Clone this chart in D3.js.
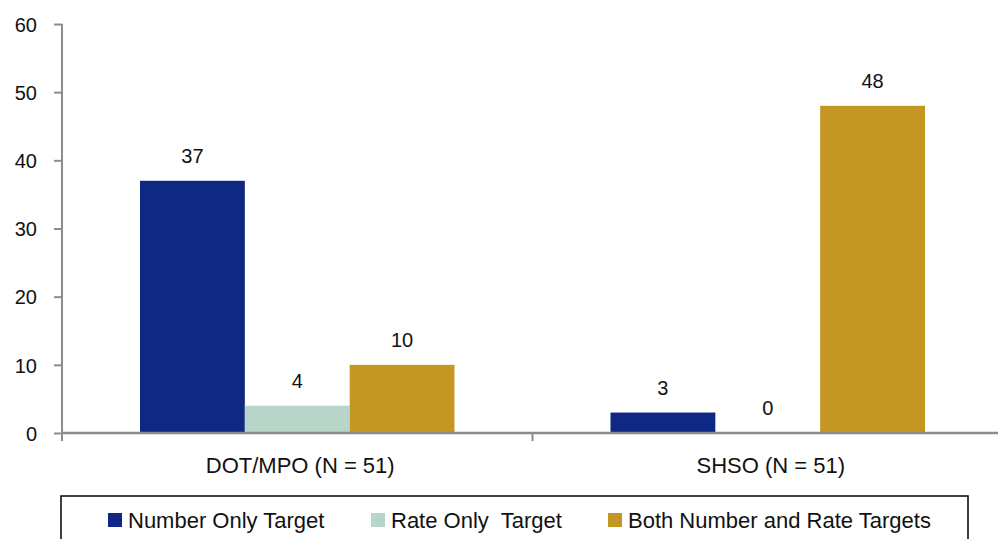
<!DOCTYPE html>
<html>
<head>
<meta charset="utf-8">
<script src="https://cdn.jsdelivr.net/npm/d3@7"></script>
<style>
  body { margin: 0; background: #fff; }
  svg text { font-family: "Liberation Sans Narrow", "Arial Narrow", "Liberation Sans", Arial, sans-serif; fill: #111; }
</style>
</head>
<body>
<svg id="chart" width="998" height="539"></svg>
<script>
// chart data
var categories = ["DOT/MPO (N = 51)", "SHSO (N = 51)"];
var seriesNames = ["Number Only Target", "Rate Only  Target", "Both Number and Rate Targets"];
var seriesColors = ["#0f2884", "#b8d5ca", "#c49722"];
var numberOnly = [37, 3];
var rateOnly = [4, 0];
var bothTargets = [10, 48];
var yTicks = [0, 10, 20, 30, 40, 50, 60];

var seriesValues = [numberOnly, rateOnly, bothTargets];

var svg = d3.select('#chart');
// plot area runs a little past the right edge of the picture, as in the original
var plotLeft = 62, plotRight = 1003, plotTop = 24, plotBottom = 433;

var x0 = d3.scaleBand().domain(categories).range([plotLeft, plotRight]).padding(0);
var x1 = d3.scaleBand().domain(seriesNames)
    .range([78, x0.bandwidth() - 78]).padding(0);
var y = d3.scaleLinear().domain([0, 60]).range([plotBottom, plotTop]);

// bars, one group per category
var groups = svg.append('g').selectAll('g').data(categories)
    .enter().append('g')
    .attr('transform', function(d) { return 'translate(' + x0(d) + ',0)'; });

groups.selectAll('rect')
    .data(function(d, i) {
        return seriesNames.map(function(s, j) {
            return { series: s, value: seriesValues[j][i], color: seriesColors[j] };
        });
    })
    .enter().append('rect')
    .attr('x', function(d) { return x1(d.series); })
    .attr('y', function(d) { return y(d.value); })
    .attr('width', x1.bandwidth())
    .attr('height', function(d) { return y(0) - y(d.value); })
    .attr('fill', function(d) { return d.color; });

groups.selectAll('text.val')
    .data(function(d, i) {
        return seriesNames.map(function(s, j) {
            return { series: s, value: seriesValues[j][i] };
        });
    })
    .enter().append('text')
    .attr('class', 'val')
    .attr('x', function(d) { return x1(d.series) + x1.bandwidth() / 2; })
    .attr('y', function(d) { return y(d.value) - 18; })
    .attr('text-anchor', 'middle')
    .style('font-size', '20px')
    .text(function(d) { return d.value; });

// y axis
var yAxis = svg.append('g')
    .attr('transform', 'translate(' + plotLeft + ',0)')
    .call(d3.axisLeft(y).tickValues(yTicks).tickSize(8).tickPadding(17).tickSizeOuter(0));
yAxis.select('.domain').remove();
yAxis.append('line').attr('x1', 0).attr('x2', 0).attr('y1', plotTop).attr('y2', plotBottom + 8)
    .attr('stroke', '#8c8c8c').attr('stroke-width', 2);
yAxis.selectAll('.tick line').attr('stroke', '#8c8c8c').attr('stroke-width', 2);
yAxis.selectAll('.tick text').style('font-size', '20px').attr('fill', '#111').attr('dy', '0.36em');

// x axis
svg.append('line').attr('x1', plotLeft).attr('x2', plotRight).attr('y1', plotBottom).attr('y2', plotBottom)
    .attr('stroke', '#8c8c8c').attr('stroke-width', 2.5);
svg.append('g').selectAll('line').data([plotLeft].concat(categories.map(function(d) { return x0(d) + x0.bandwidth(); })))
    .enter().append('line')
    .attr('x1', function(d) { return d; })
    .attr('x2', function(d) { return d; })
    .attr('y1', plotBottom).attr('y2', plotBottom + 8)
    .attr('stroke', '#8c8c8c').attr('stroke-width', 2);
svg.append('g').selectAll('text').data(categories)
    .enter().append('text')
    .attr('x', function(d) { return x0(d) + x0.bandwidth() / 2 + 3; })
    .attr('y', 473)
    .attr('text-anchor', 'middle')
    .style('font-size', '22px')
    .text(function(d) { return d; });

// legend
svg.append('rect').attr('x', 61).attr('y', 496).attr('width', 907).attr('height', 60)
    .attr('fill', 'none').attr('stroke', '#000').attr('stroke-width', 1.5);
var legendX = [108, 371, 608];
var items = svg.append('g').selectAll('g').data(seriesNames)
    .enter().append('g')
    .attr('transform', function(d, i) { return 'translate(' + legendX[i] + ',513)'; });
items.append('rect').attr('width', 14).attr('height', 14)
    .attr('fill', function(d, i) { return seriesColors[i]; });
items.append('text').attr('x', 20).attr('y', 15)
    .style('font-size', '22px')
    .style('white-space', 'pre')
    .text(function(d) { return d; });
</script>
</body>
</html>
